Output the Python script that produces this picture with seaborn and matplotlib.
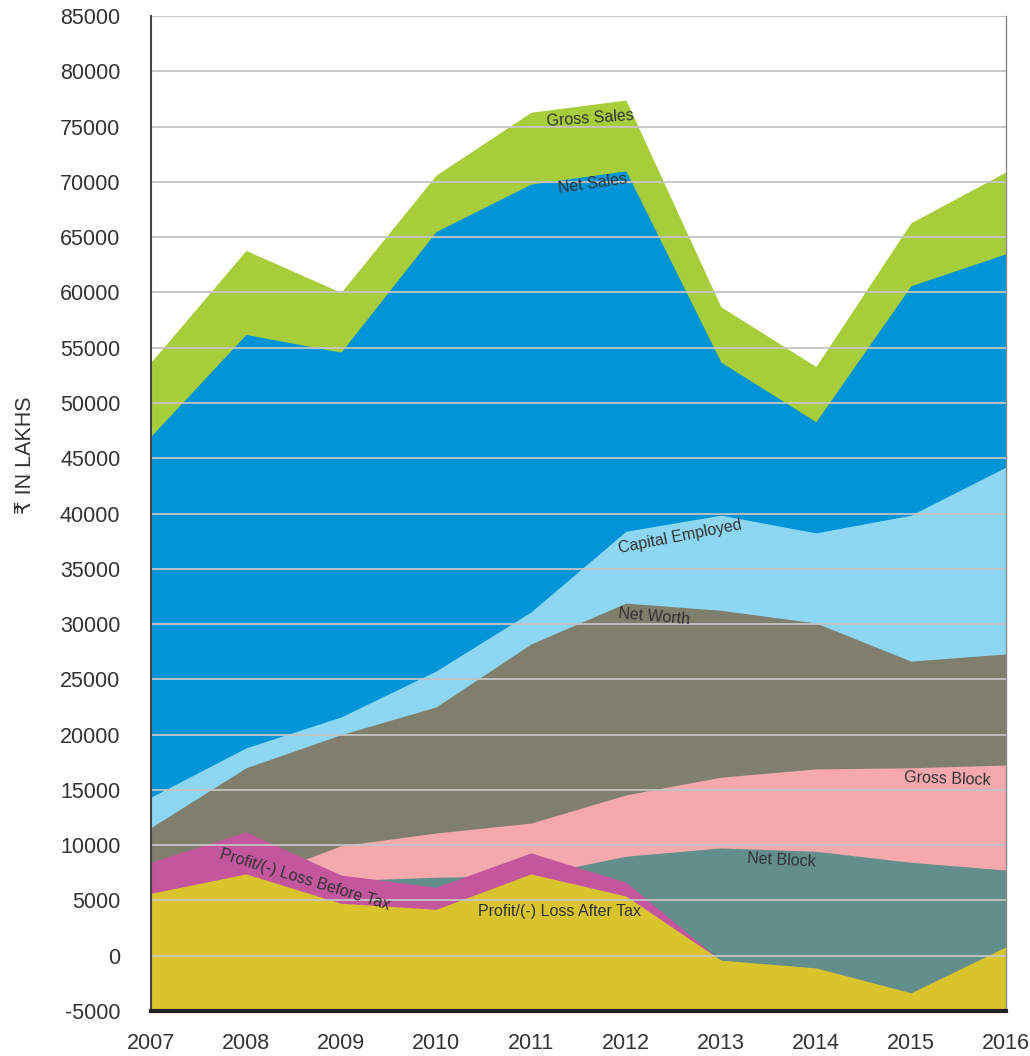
import numpy as np
import pandas as pd
import matplotlib
matplotlib.use("Agg")
import matplotlib.pyplot as plt
import seaborn as sns

# Data (Rs in lakhs)
years = [2007, 2008, 2009, 2010, 2011, 2012, 2013, 2014, 2015, 2016]
gross_sales = [53700, 63800, 60000, 70600, 76300, 77400, 58700, 53300, 66300, 70900]
net_sales = [47000, 56200, 54600, 65500, 69800, 71000, 53700, 48300, 60600, 63500]
capital_employed = [14350, 18800, 21600, 25750, 31100, 38400, 39850, 38250, 39850, 44200]
net_worth = [11600, 17000, 20000, 22500, 28200, 31900, 31250, 30100, 26650, 27300]
gross_block = [6000, 6700, 9950, 11100, 12000, 14550, 16150, 16900, 17000, 17250]
net_block = [5000, 5500, 6800, 7100, 7250, 9000, 9750, 9450, 8450, 7750]
pbt = [8450, 11200, 7300, 6200, 9300, 6650, -450, -1150, -3400, 750]
pat = [5650, 7400, 4750, 4200, 7400, 5400, -400, -1100, -3350, 800]

series_names = ["Gross Sales", "Net Sales", "Capital Employed", "Net Worth",
                "Gross Block", "Net Block", "Profit/(-) Loss Before Tax",
                "Profit/(-) Loss After Tax"]
series_values = [gross_sales, net_sales, capital_employed, net_worth,
                 gross_block, net_block, pbt, pat]
colors = ["#A8CD3A", "#0095D9", "#8DD7F5", "#807F6E",
          "#F5A9AD", "#628E8C", "#C4569E", "#DAC42C"]

df = pd.DataFrame(dict(zip(series_names, series_values)), index=years)

sns.set_style("white")
plt.rcParams["font.family"] = ["Liberation Sans", "DejaVu Sans"]
plt.rcParams["axes.unicode_minus"] = False

fig = plt.figure(figsize=(10.3, 10.56), dpi=100)
ax = fig.add_axes([0.1466, 0.0426, 0.83, 0.9422])

ymin = -5000
for name, col in zip(series_names, colors):
    ax.fill_between(df.index, ymin, df[name], color=col, linewidth=0, zorder=1)

ax.set_xlim(2007, 2016)
ax.set_ylim(-5000, 85000)
ax.set_xticks(years)
ax.set_yticks(range(-5000, 85001, 5000))

# grid over the areas
for v in range(0, 85001, 5000):
    ax.axhline(v, color="#C4C4C4", lw=1.3, zorder=3)

ax.tick_params(axis="both", direction="out", length=10, width=1.3,
               color="#555555", labelsize=15.5, labelcolor="#333333")
ax.tick_params(axis="y", pad=12)
ax.tick_params(axis="x", pad=6)

ax.spines["top"].set_visible(False)
ax.spines["left"].set_color("#444444")
ax.spines["left"].set_linewidth(1.5)
ax.spines["bottom"].set_color("#222222")
ax.spines["bottom"].set_linewidth(3)
ax.spines["right"].set_color("#888888")
ax.spines["right"].set_linewidth(1)
for s in ["left", "bottom", "right"]:
    ax.spines[s].set_zorder(5)

ax.set_ylabel("₹ IN LAKHS", fontsize=15.5, color="#333333")
ax.yaxis.set_label_coords(-0.134, 0.559)

# series labels
lab = dict(fontsize=11.5, color="#333333", ha="center", va="center", zorder=4)
ax.text(2011.62, 75700, "Gross Sales", rotation=4, **lab)
ax.text(2011.65, 69800, "Net Sales", rotation=8, **lab)
ax.text(2012.57, 37900, "Capital Employed", rotation=11, **lab)
ax.text(2012.3, 30700, "Net Worth", rotation=-5, **lab)
ax.text(2015.38, 16000, "Gross Block", rotation=-2, **lab)
ax.text(2013.64, 8600, "Net Block", rotation=-3, **lab)
ax.text(2008.62, 6900, "Profit/(-) Loss Before Tax", rotation=-17, **lab)
ax.text(2011.3, 4000, "Profit/(-) Loss After Tax", rotation=0, **lab)

fig.savefig("out.png", dpi=100)
